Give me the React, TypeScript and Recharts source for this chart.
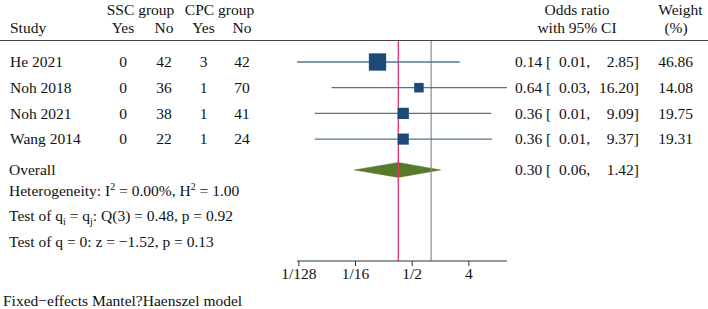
import React from 'react';
import { ComposedChart, Scatter, XAxis, YAxis, ErrorBar, ReferenceLine, ReferenceArea } from 'recharts';

// study rows
const studies = ['He 2021', 'Noh 2018', 'Noh 2021', 'Wang 2014'];
const sscYes = [0, 0, 0, 0];
const sscNo = [42, 36, 38, 22];
const cpcYes = [3, 1, 1, 1];
const cpcNo = [42, 70, 41, 24];
const oddsRatio = [0.14, 0.64, 0.36, 0.36];
const ciLow = [0.0073, 0.026, 0.014, 0.014];
const ciHigh = [2.85, 16.2, 9.09, 9.37];
const weights = [46.86, 14.08, 19.75, 19.31];

// overall estimate
const overallOR = 0.3;
const overallLow = 0.06;
const overallHigh = 1.42;

// heterogeneity / tests
const i2 = '0.00';
const h2 = '1.00';
const qDf = 3;
const qStat = '0.48';
const qP = '0.92';
const zStat = '\u22121.52';
const zP = '0.13';

const tickValues = [1 / 128, 1 / 16, 1 / 2, 4];
const tickLabels = ['1/128', '1/16', '1/2', '4'];

const NAVY = '#1d4a76';
const LINE = '#4e749a';
const RED = '#e6306a';
const GREEN = '#587a2c';
const GRAY = '#8a8a8a';
const FONT = 'Liberation Serif, Times New Roman, serif';

// layout of rows (vertical units)
const Y0 = 0.183;
const UNIT = 25.7;
const TOP = 41;
const OV_ROW = 5.2;
const DH = 0.29;
const rowPx = (r: number) => TOP + (r - Y0) * UNIT;

const data = studies.map((s, i) => ({
  name: s,
  or: oddsRatio[i],
  row: i + 1,
  weight: weights[i],
  err: [oddsRatio[i] - ciLow[i], ciHigh[i] - oddsRatio[i]],
}));

const Square = (props: any) => {
  const { cx, cy, payload } = props;
  const s = 2.53 * Math.sqrt(payload.weight);
  return <rect x={cx - s / 2} y={cy - s / 2} width={s} height={s} fill={NAVY} />;
};

const LeftHalf = (p: any) => (
  <polygon
    points={`${p.x},${p.y + p.height / 2} ${p.x + p.width},${p.y} ${p.x + p.width},${p.y + p.height}`}
    fill={GREEN}
    stroke={GREEN}
    strokeWidth={0.5}
  />
);
const RightHalf = (p: any) => (
  <polygon
    points={`${p.x},${p.y} ${p.x + p.width},${p.y + p.height / 2} ${p.x},${p.y + p.height}`}
    fill={GREEN}
    stroke={GREEN}
    strokeWidth={0.5}
  />
);

const fmt = (v: number) => v.toFixed(2);

const T = (props: any) => <text fontFamily={FONT} fontSize={15.5} fill="#111" {...props} />;

const Sup = ({ children }: any) => (
  <tspan fontSize={10} dy={-6}>{children}</tspan>
);
const Sub = ({ children }: any) => (
  <tspan fontSize={10} dy={4}>{children}</tspan>
);

const App = () => {
  const base = (r: number) => rowPx(r) + 5.3;
  return (
    <div style={{ position: 'absolute', left: 0, top: 0, width: 708, height: 309, background: '#fff' }}>
      <ComposedChart width={708} height={309} margin={{ top: TOP, right: 201, bottom: 18, left: 297 }}>
        <XAxis
          type="number"
          dataKey="or"
          scale="log"
          domain={[0.0073, 16.2]}
          ticks={tickValues}
          tickFormatter={(v: number) => tickLabels[tickValues.indexOf(v)] ?? ''}
          tickSize={5}
          height={30}
          stroke="#333"
          tick={{ fill: '#111', fontSize: 15.5, fontFamily: FONT }}
          allowDataOverflow
        />
        <YAxis type="number" dataKey="row" domain={[Y0, Y0 + 220 / UNIT]} reversed hide />
        <ReferenceLine x={overallOR} stroke={RED} strokeWidth={1.3} />
        <ReferenceLine x={1} stroke={GRAY} strokeWidth={1.2} />
        <Scatter data={data} shape={Square} isAnimationActive={false}>
          <ErrorBar dataKey="err" direction="x" width={0} stroke={LINE} strokeWidth={1.3} isAnimationActive={false} />
        </Scatter>
        <ReferenceArea x1={overallLow} x2={overallOR} y1={OV_ROW - DH} y2={OV_ROW + DH} shape={LeftHalf} />
        <ReferenceArea x1={overallOR} x2={overallHigh} y1={OV_ROW - DH} y2={OV_ROW + DH} shape={RightHalf} />
      </ComposedChart>
      <svg width={708} height={309} style={{ position: 'absolute', left: 0, top: 0, pointerEvents: 'none' }}>
        <line x1={0} x2={708} y1={40.5} y2={40.5} stroke="#444" strokeWidth={1.2} />
        <T x={140.5} y={15} textAnchor="middle">SSC group</T>
        <T x={219.5} y={15} textAnchor="middle">CPC group</T>
        <T x={577} y={15} textAnchor="middle">Odds ratio</T>
        <T x={680.5} y={15} textAnchor="middle">Weight</T>
        <T x={10} y={33}>Study</T>
        <T x={123} y={33} textAnchor="middle">Yes</T>
        <T x={164} y={33} textAnchor="middle">No</T>
        <T x={203.5} y={33} textAnchor="middle">Yes</T>
        <T x={242} y={33} textAnchor="middle">No</T>
        <T x={577} y={33} textAnchor="middle">with 95% CI</T>
        <T x={676} y={33} textAnchor="middle">(%)</T>
        {studies.map((s, i) => {
          const y = base(i + 1);
          return (
            <g key={s}>
              <T x={10} y={y}>{s}</T>
              <T x={123} y={y} textAnchor="middle">{sscYes[i]}</T>
              <T x={164} y={y} textAnchor="middle">{sscNo[i]}</T>
              <T x={203.5} y={y} textAnchor="middle">{cpcYes[i]}</T>
              <T x={242} y={y} textAnchor="middle">{cpcNo[i]}</T>
              <T x={515} y={y}>{fmt(oddsRatio[i])} [</T>
              <T x={559} y={y}>{fmt(ciLow[i])},</T>
              <T x={639} y={y} textAnchor="end">{fmt(ciHigh[i])}]</T>
              <T x={693} y={y} textAnchor="end">{fmt(weights[i])}</T>
            </g>
          );
        })}
        <T x={9} y={base(OV_ROW)}>Overall</T>
        <T x={515} y={base(OV_ROW)}>{fmt(overallOR)} [</T>
        <T x={559} y={base(OV_ROW)}>{fmt(overallLow)},</T>
        <T x={639} y={base(OV_ROW)} textAnchor="end">{fmt(overallHigh)}]</T>
        <T x={9} y={base(6)}>
          Heterogeneity: I<Sup>2</Sup><tspan dy={6}> = {i2}%, H</tspan><Sup>2</Sup><tspan dy={6}> = {h2}</tspan>
        </T>
        <T x={9} y={base(7)}>
          Test of q<Sub>i</Sub><tspan dy={-4}> = q</tspan><Sub>j</Sub><tspan dy={-4}>: Q({qDf}) = {qStat}, p = {qP}</tspan>
        </T>
        <T x={9} y={base(8)}>Test of q = 0: z = {zStat}, p = {zP}</T>
        <T x={3} y={306}>Fixed{'\u2212'}effects Mantel?Haenszel model</T>
      </svg>
    </div>
  );
};

export default App;
